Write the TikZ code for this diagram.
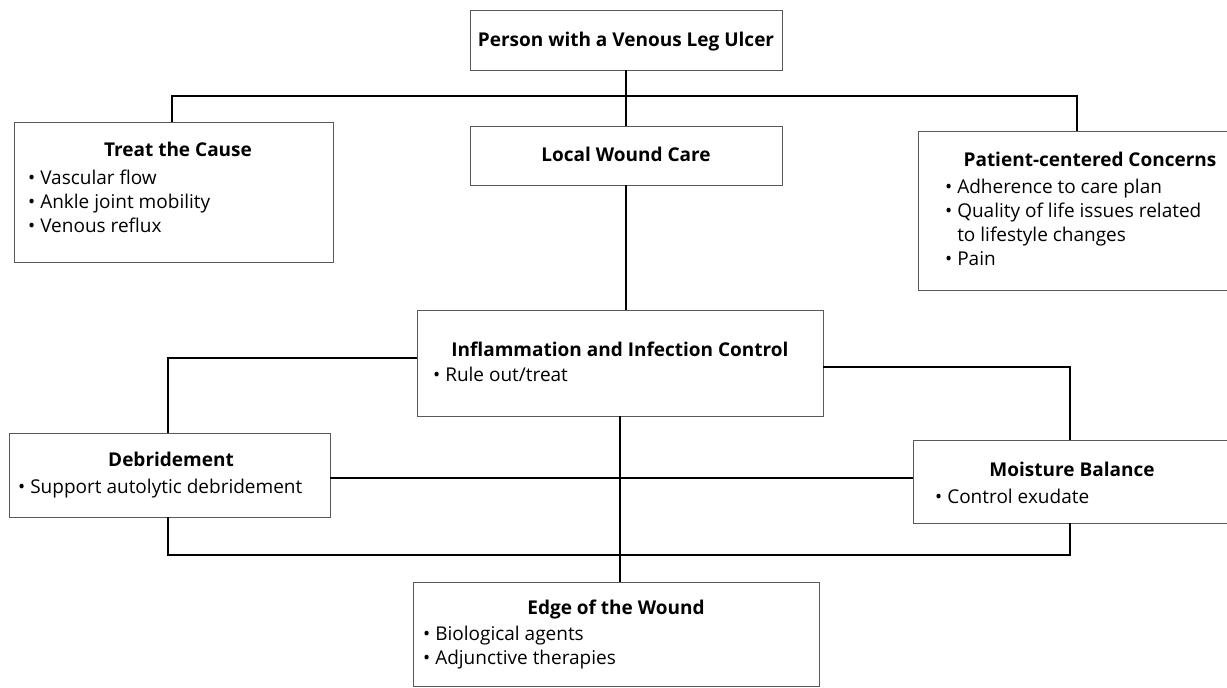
\documentclass[tikz,border=0pt]{standalone}
\usepackage{fontspec}
\setmainfont{Open Sans}
\usetikzlibrary{calc}
\begin{document}
\begin{tikzpicture}[x=1pt,y=-1pt,
  box/.style={draw=black!65, line width=0.9pt, rectangle, inner sep=0pt, anchor=center},
  conn/.style={draw=black, line width=2.6pt},
  ttl/.style={font=\fontsize{19}{24}\selectfont\bfseries, anchor=base, inner sep=0pt},
  bul/.style={font=\fontsize{19}{24}\selectfont, anchor=base west, inner sep=0pt, align=left}
]
\useasboundingbox[fill=white] (0,0) rectangle (1227,688);

% boxes
\node[box, minimum width=312pt, minimum height=60pt] (top) at (626,40) {};
\node[box, minimum width=312pt, minimum height=59pt] (lwc) at (626,155.5) {};
\node[box, minimum width=319pt, minimum height=140pt] (treat) at (173.5,192) {};
\node[box, minimum width=314pt, minimum height=159pt] (patient) at (1075,210.5) {};
\node[box, minimum width=406pt, minimum height=106pt] (inf) at (620,363) {};
\node[box, minimum width=321pt, minimum height=84pt] (debr) at (169.5,475) {};
\node[box, minimum width=319pt, minimum height=83pt] (moist) at (1072.5,481.5) {};
\node[box, minimum width=406pt, minimum height=104pt] (edge) at (616,634) {};

% texts
\node[ttl] (ttop) at (626,46) {Person with a Venous Leg Ulcer};
\node[ttl] (tlwc) at (626,161) {Local Wound Care};

\node[ttl] (ttreat) at (178,156) {Treat the Cause};
\node[bul] (btreat1) at (28,184) {• Vascular flow};
\node[bul] (btreat2) at (28,208) {• Ankle joint mobility};
\node[bul] (btreat3) at (28,232) {• Venous reflux};

\node[ttl] (tpat) at (1090,166) {Patient-centered Concerns};
\node[bul] (bpat1) at (945,193) {• Adherence to care plan};
\node[bul] (bpat2) at (945,217) {• Quality of life issues related};
\node[bul] (bpat3) at (945,241) {\hphantom{• }to lifestyle changes};
\node[bul] (bpat4) at (945,265) {• Pain};

\node[ttl] (tinf) at (620,356) {Inflammation and Infection Control};
\node[bul] (binf1) at (433,381) {• Rule out/treat};

\node[ttl] (tdebr) at (171,466) {Debridement};
\node[bul] (bdebr1) at (18,493) {• Support autolytic debridement};

\node[ttl] (tmoist) at (1072,476) {Moisture Balance};
\node[bul] (bmoist1) at (935,503) {• Control exudate};

\node[ttl] (tedge) at (616,614) {Edge of the Wound};
\node[bul] (bedge1) at (423,640) {• Biological agents};
\node[bul] (bedge2) at (423,664) {• Adjunctive therapies};

% connector coordinates
\coordinate (busL) at (172,96);
\coordinate (busR) at (1077,96);
\coordinate (iL) at (168,358);
\coordinate (iR) at (1070,367);
\coordinate (midy) at (0,478);
\coordinate (bL) at (168,555);
\coordinate (bR) at (1070,555);

% connectors
\draw[conn] (top.south) -- (lwc.north);
\draw[conn] (treat.north -| busL) -- (busL) -- (busR) -- (patient.north -| busR);
\draw[conn] (lwc.south) -- (lwc.south |- inf.north);
\draw[conn] (inf.west |- iL) -- (iL) -- (debr.north -| iL);
\draw[conn] (inf.east |- iR) -- (iR) -- (moist.north -| iR);
\draw[conn] (debr.east |- midy) -- (moist.west |- midy);
\draw[conn] (debr.south -| bL) -- (bL) -- (bR) -- (moist.south -| bR);
\draw[conn] (inf.south) -- (inf.south |- edge.north);
\end{tikzpicture}
\end{document}
